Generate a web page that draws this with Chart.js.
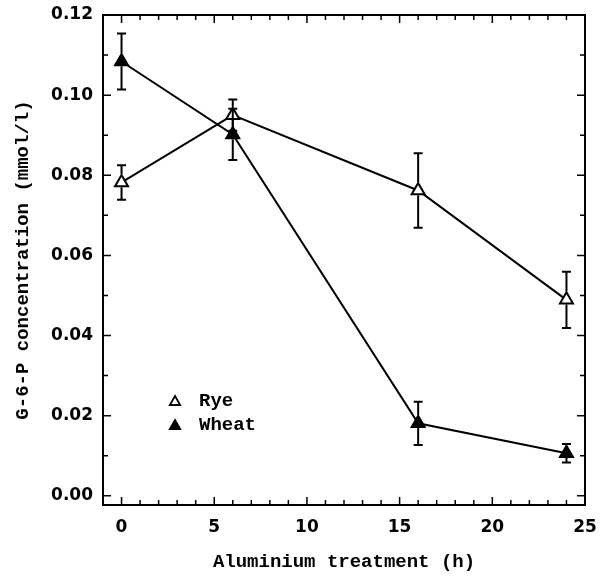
<!DOCTYPE html>
<html>
<head>
<meta charset="utf-8">
<script src="https://cdn.jsdelivr.net/npm/chart.js@4"></script>
<style>
  html, body { margin: 0; padding: 0; background: #fff; }
  #wrap { width: 604px; height: 576px; }
</style>
</head>
<body>
<div id="wrap"><canvas id="g6pChart"></canvas></div>
<script>
// ── data ────────────────────────────────────────────────────────────────
const hours = [0, 6, 16, 24];
const ryeMean = [0.0782, 0.0950, 0.0762, 0.0489];
const ryeErr = [0.0043, 0.0039, 0.0093, 0.0070];
const wheatMean = [0.1084, 0.0902, 0.0181, 0.0106];
const wheatErr = [0.0070, 0.0064, 0.0054, 0.0023];
const xTicks = [0, 5, 10, 15, 20, 25];
const yTicks = [0.00, 0.02, 0.04, 0.06, 0.08, 0.10, 0.12];

const tickFont = { family: 'DejaVu Sans', size: 17, weight: 'bold' };
const titleFont = { family: 'Liberation Mono', size: 19, weight: 'bold' };

// ── box with inward ticks on all four sides ────────────────────────────
const frame = {
    id: 'frame',
    afterDraw(chart) {
        const { ctx, chartArea: a, scales: { x, y } } = chart;
        ctx.save();
        ctx.strokeStyle = '#000';
        ctx.lineWidth = 2;
        ctx.strokeRect(a.left, a.top, a.right - a.left, a.bottom - a.top);
        ctx.lineWidth = 1.5;
        ctx.beginPath();
        for (let v = -1; v <= 25; v++) {
            const px = x.getPixelForValue(v);
            const len = v % 5 === 0 ? 8 : 5;
            ctx.moveTo(px, a.bottom); ctx.lineTo(px, a.bottom - len);
            ctx.moveTo(px, a.top); ctx.lineTo(px, a.top + len);
        }
        for (let i = 0; i <= 12; i++) {
            const py = y.getPixelForValue(i / 100);
            const len = i % 2 === 0 ? 8 : 5;
            ctx.moveTo(a.left, py); ctx.lineTo(a.left + len, py);
            ctx.moveTo(a.right, py); ctx.lineTo(a.right - len, py);
        }
        ctx.stroke();
        ctx.restore();
    }
};

// ── error bars ─────────────────────────────────────────────────────────
const errorBars = {
    id: 'errorBars',
    afterDatasetsDraw(chart) {
        const { ctx, scales: { x, y } } = chart;
        const errs = [ryeErr, wheatErr];
        ctx.save();
        ctx.strokeStyle = '#000';
        ctx.lineWidth = 2;
        chart.data.datasets.forEach((ds, i) => {
            const r = ds.pointRadius;
            ds.data.forEach((p, j) => {
                const e = errs[i][j];
                const px = x.getPixelForValue(p.x);
                const py = y.getPixelForValue(p.y);
                const top = y.getPixelForValue(p.y + e);
                const bot = y.getPixelForValue(p.y - e);
                ctx.beginPath();
                if (top < py - r - 1) { ctx.moveTo(px, top); ctx.lineTo(px, py - r - 1); }
                if (bot > py + r / 2 + 1) { ctx.moveTo(px, py + r / 2 + 1); ctx.lineTo(px, bot); }
                ctx.moveTo(px - 4.5, top); ctx.lineTo(px + 4.5, top);
                ctx.moveTo(px - 4.5, bot); ctx.lineTo(px + 4.5, bot);
                ctx.stroke();
            });
        });
        ctx.restore();
    }
};

// ── legend inside the plot ─────────────────────────────────────────────
const innerLegend = {
    id: 'innerLegend',
    afterDraw(chart) {
        const { ctx, chartArea: a } = chart;
        ctx.save();
        ctx.font = 'bold 19px "Liberation Mono"';
        ctx.textBaseline = 'middle';
        chart.data.datasets.forEach((ds, i) => {
            const cx = a.left + 72;
            const cy = a.bottom - 104 + i * 24;
            ctx.strokeStyle = '#000';
            ctx.fillStyle = ds.pointBackgroundColor;
            ctx.lineWidth = 1.8;
            Chart.helpers.drawPoint(ctx, { pointStyle: 'triangle', radius: 6, rotation: 0, borderWidth: 1.8 }, cx, cy + 1);
            ctx.fillStyle = '#000';
            ctx.fillText(ds.label, cx + 24, cy);
        });
        ctx.restore();
    }
};

new Chart(document.getElementById('g6pChart'), {
    type: 'line',
    data: {
        datasets: [
            {
                label: 'Rye',
                data: hours.map((h, i) => ({ x: h, y: ryeMean[i] })),
                borderColor: '#000',
                borderWidth: 2,
                pointStyle: 'triangle',
                pointRadius: 7.5,
                pointBorderWidth: 2,
                pointBackgroundColor: '#fff',
                pointBorderColor: '#000',
                tension: 0,
            },
            {
                label: 'Wheat',
                data: hours.map((h, i) => ({ x: h, y: wheatMean[i] })),
                borderColor: '#000',
                borderWidth: 2,
                pointStyle: 'triangle',
                pointRadius: 7.5,
                pointBorderWidth: 2,
                pointBackgroundColor: '#000',
                pointBorderColor: '#000',
                tension: 0,
            }
        ]
    },
    options: {
        responsive: true,
        maintainAspectRatio: false,
        animation: false,
        layout: { padding: { left: 0, top: 15, right: 19, bottom: 0 } },
        plugins: { legend: { display: false }, tooltip: { enabled: false } },
        scales: {
            x: {
                type: 'linear',
                min: -1,
                max: 25,
                afterBuildTicks: s => { s.ticks = xTicks.map(v => ({ value: v })); },
                afterFit: s => { s.height = 71; },
                grid: { display: false, tickLength: 10 },
                border: { display: false },
                ticks: { color: '#000', font: tickFont, padding: 2, maxRotation: 0 },
                title: {
                    display: true,
                    text: 'Aluminium treatment (h)',
                    color: '#000',
                    font: titleFont,
                    padding: { top: 0, bottom: 2 }
                }
            },
            y: {
                min: -0.0023,
                max: 0.12,
                afterBuildTicks: s => { s.ticks = yTicks.map(v => ({ value: v })); },
                afterFit: s => { s.width = 103; },
                grid: { display: false, tickLength: 8 },
                border: { display: false },
                ticks: { color: '#000', font: tickFont, padding: 2, callback: v => v.toFixed(2) },
                title: {
                    display: true,
                    text: 'G-6-P concentration (mmol/l)',
                    color: '#000',
                    font: titleFont,
                    padding: { top: 12, bottom: 0 }
                }
            }
        }
    },
    plugins: [frame, errorBars, innerLegend]
});
</script>
</body>
</html>
